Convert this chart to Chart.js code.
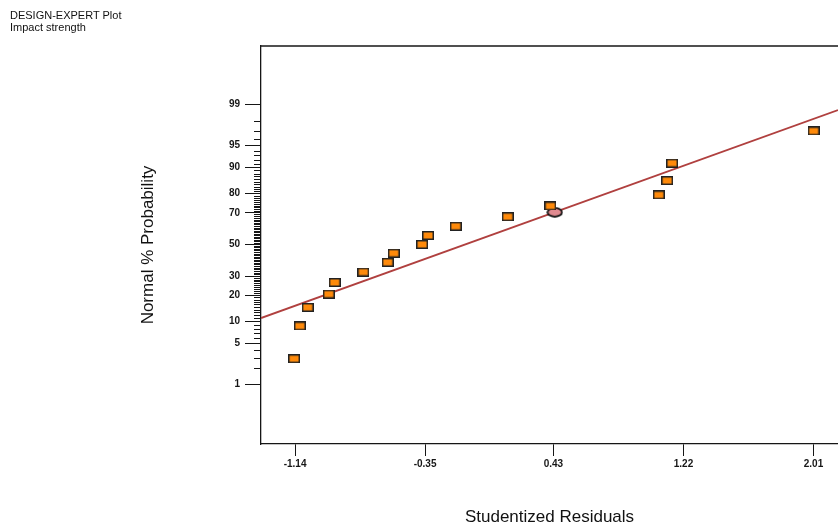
<!DOCTYPE html>
<html>
<head>
<meta charset="utf-8">
<script src="https://cdn.jsdelivr.net/npm/chart.js@4"></script>
<style>
  body { margin: 0; background: #fff; }
  .wrap { position: relative; width: 838px; height: 529px; overflow: hidden; }
  .caption {
    position: absolute; left: 10px; top: 9px;
    font: 11px "Liberation Sans", Arial, sans-serif; line-height: 12px; color: #111;
  }
  canvas { display: block; }
</style>
</head>
<body>
<div class="wrap">
  <div class="caption">DESIGN-EXPERT Plot<br>Impact strength</div>
  <canvas id="chart" width="838" height="529"></canvas>
</div>
<script>
// studentized residuals (x) and normal % probability (y)
const residuals = [-1.146, -1.111, -1.063, -0.935, -0.899, -0.725, -0.577, -0.540, -0.368, -0.332, -0.164, 0.152, 0.411, 1.070, 1.121, 1.151, 2.011];
const probabilities = [2.9, 8.8, 14.8, 20.5, 26.4, 32.3, 38.3, 44.2, 50.0, 55.9, 61.8, 67.7, 73.8, 79.4, 85.5, 91.1, 97.0];

// fitted reference line end points
const fitLineX = [-1.347, 2.159];
const fitLineP = [11.1, 98.7];

// highlighted point (ellipse)
const markX = [0.438];
const markP = [70.3];

const xTicks = [-1.14, -0.35, 0.43, 1.22, 2.01];
const yTickLabels = [1, 5, 10, 20, 30, 50, 70, 80, 90, 95, 99];

const INK = "#161616";
const FONT = "'Liberation Sans', Arial, sans-serif";

// inverse normal cdf, turns a probability into the plotting position
function probit(p) {
  const a = [-3.969683028665376e+01, 2.209460984245205e+02, -2.759285104469687e+02, 1.383577518672690e+02, -3.066479806614716e+01, 2.506628277459239e+00];
  const b = [-5.447609879822406e+01, 1.615858368580409e+02, -1.556989798598866e+02, 6.680131188771972e+01, -1.328068155288572e+01];
  const c = [-7.784894002430293e-03, -3.223964580411365e-01, -2.400758277161838e+00, -2.549671010115898e+00, 4.374664141464968e+00, 2.938163982698783e+00];
  const d = [7.784695709041462e-03, 3.224671290700398e-01, 2.445134137142996e+00, 3.754408661907416e+00];
  const lo = 0.02425;
  if (p < lo) {
    const q = Math.sqrt(-2 * Math.log(p));
    return (((((c[0] * q + c[1]) * q + c[2]) * q + c[3]) * q + c[4]) * q + c[5]) / ((((d[0] * q + d[1]) * q + d[2]) * q + d[3]) * q + 1);
  }
  if (p > 1 - lo) {
    const q = Math.sqrt(-2 * Math.log(1 - p));
    return -(((((c[0] * q + c[1]) * q + c[2]) * q + c[3]) * q + c[4]) * q + c[5]) / ((((d[0] * q + d[1]) * q + d[2]) * q + d[3]) * q + 1);
  }
  const q = p - 0.5;
  const r = q * q;
  return (((((a[0] * r + a[1]) * r + a[2]) * r + a[3]) * r + a[4]) * r + a[5]) * q / (((((b[0] * r + b[1]) * r + b[2]) * r + b[3]) * r + b[4]) * r + 1);
}
const z = (pct) => probit(pct / 100);

function squareMarker() {
  const c = document.createElement("canvas");
  c.width = 12; c.height = 9;
  const g = c.getContext("2d");
  g.fillStyle = "#ff8a0a";
  g.fillRect(1, 1, 10, 7);
  g.strokeStyle = "#222";
  g.lineWidth = 1.5;
  g.strokeRect(0.75, 0.75, 10.5, 7.5);
  return c;
}

function ellipseMarker() {
  const c = document.createElement("canvas");
  c.width = 17; c.height = 11;
  const g = c.getContext("2d");
  g.beginPath();
  g.ellipse(8.5, 5.5, 7.2, 4.3, 0, 0, Math.PI * 2);
  g.fillStyle = "#e08a90";
  g.fill();
  g.strokeStyle = "#111";
  g.lineWidth = 1.8;
  g.stroke();
  return c;
}

// minor percent ticks + top frame line
const probAxisExtras = {
  id: "probAxisExtras",
  afterDraw(chart) {
    const { ctx, chartArea } = chart;
    const y = chart.scales.y;
    ctx.save();
    ctx.strokeStyle = INK;
    ctx.lineWidth = 1;
    ctx.beginPath();
    for (let p = 1; p <= 99; p++) {
      if (yTickLabels.includes(p)) continue;
      const py = Math.round(y.getPixelForValue(z(p))) + 0.5;
      ctx.moveTo(chartArea.left - 7, py);
      ctx.lineTo(chartArea.left, py);
    }
    ctx.stroke();
    ctx.lineWidth = 1.3;
    ctx.beginPath();
    ctx.moveTo(chartArea.left, chartArea.top);
    ctx.lineTo(chartArea.right, chartArea.top);
    ctx.stroke();
    ctx.restore();
  },
};

new Chart(document.getElementById("chart"), {
  type: "scatter",
  data: {
    datasets: [
      {
        data: residuals.map((x, i) => ({ x, y: z(probabilities[i]) })),
        pointStyle: squareMarker(),
        pointRadius: 5,
      },
      {
        data: markX.map((x, i) => ({ x, y: z(markP[i]) })),
        pointStyle: ellipseMarker(),
        pointRadius: 5,
      },
      {
        type: "line",
        data: fitLineX.map((x, i) => ({ x, y: z(fitLineP[i]) })),
        borderColor: "#b0403f",
        borderWidth: 1.8,
        pointRadius: 0,
        fill: false,
      },
    ],
  },
  options: {
    responsive: false,
    animation: false,
    events: [],
    layout: { autoPadding: false, padding: { top: 46, left: 0, right: 0, bottom: 0 } },
    plugins: { legend: { display: false }, tooltip: { enabled: false } },
    scales: {
      x: {
        type: "linear",
        min: -1.347,
        max: 2.159,
        afterBuildTicks: (scale) => { scale.ticks = xTicks.map((v) => ({ value: v })); },
        afterFit: (scale) => {
          scale.height = 85;
          scale.paddingLeft = 0;
          scale.paddingRight = 0;
        },
        ticks: {
          color: INK,
          padding: 2,
          maxRotation: 0,
          font: { family: FONT, size: 10, weight: "bold" },
          callback: (v) => Number(v).toFixed(2),
        },
        grid: { drawOnChartArea: false, tickLength: 12, color: INK, lineWidth: 1 },
        border: { color: INK, width: 1.3 },
        title: {
          display: true,
          text: "Studentized Residuals",
          color: "#111",
          font: { family: FONT, size: 17, lineHeight: 1.2 },
          padding: { top: 0, bottom: 1.8 },
        },
      },
      y: {
        type: "linear",
        min: -3.31,
        max: 3.29,
        afterBuildTicks: (scale) => { scale.ticks = yTickLabels.map((p) => ({ value: z(p) })); },
        afterFit: (scale) => {
          scale.width = 261;
          scale.paddingTop = 0;
          scale.paddingBottom = 0;
        },
        ticks: {
          color: INK,
          padding: 5,
          font: { family: FONT, size: 10, weight: "bold" },
          callback: (v, i) => String(yTickLabels[i]),
        },
        grid: { drawOnChartArea: false, tickLength: 16, color: INK, lineWidth: 1 },
        border: { color: INK, width: 1.3 },
        title: {
          display: true,
          text: "Normal % Probability",
          color: "#111",
          font: { family: FONT, size: 17, lineHeight: 1.2 },
          padding: { top: 137.8, bottom: 0 },
        },
      },
    },
  },
  plugins: [probAxisExtras],
});
</script>
</body>
</html>
